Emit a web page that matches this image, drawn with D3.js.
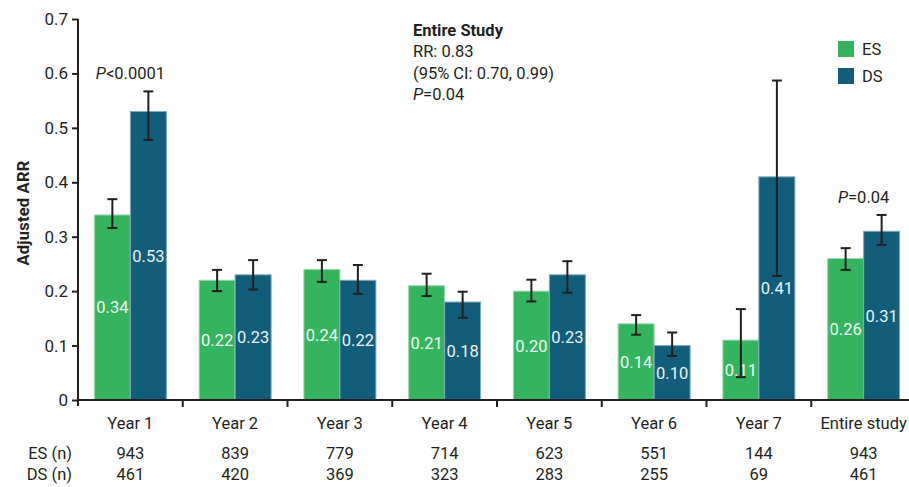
<!DOCTYPE html>
<html>
<head>
<meta charset="utf-8">
<script src="https://cdn.jsdelivr.net/npm/d3@7"></script>
<style>
  html, body { margin: 0; padding: 0; background: #fff; }
  svg { display: block; }
  text { font-family: "Roboto", "Open Sans", sans-serif; fill: #231f20; }
</style>
</head>
<body>
<svg id="chart" width="909" height="487"></svg>
<script>
// Adjusted annualised relapse rate by study year
const categories = ["Year 1", "Year 2", "Year 3", "Year 4", "Year 5", "Year 6", "Year 7", "Entire study"];
const seriesNames = ["ES", "DS"];
const esValues = [0.34, 0.22, 0.24, 0.21, 0.20, 0.14, 0.11, 0.26];
const dsValues = [0.53, 0.23, 0.22, 0.18, 0.23, 0.10, 0.41, 0.31];
const esLower = [0.316, 0.200, 0.217, 0.191, 0.181, 0.120, 0.042, 0.239];
const esUpper = [0.369, 0.239, 0.257, 0.232, 0.221, 0.156, 0.167, 0.279];
const dsLower = [0.478, 0.203, 0.195, 0.151, 0.197, 0.081, 0.228, 0.285];
const dsUpper = [0.567, 0.257, 0.248, 0.199, 0.255, 0.124, 0.587, 0.340];
const esCounts = [943, 839, 779, 714, 623, 551, 144, 943];
const dsCounts = [461, 420, 369, 323, 283, 255, 69, 461];
const yTicks = [0, 0.1, 0.2, 0.3, 0.4, 0.5, 0.6, 0.7];
const pAnnotations = [
  { category: "Year 1", series: "DS", op: "<", value: "0.0001" },
  { category: "Entire study", series: "DS", op: "=", value: "0.04" }
];
const summaryLines = ["RR: 0.83", "(95% CI: 0.70, 0.99)"];
const summaryP = "0.04";

const colors = { ES: "#35b45f", DS: "#125e7a" };
const strokes = { ES: "#9ed9b0", DS: "#7fa9bb" };
const fs = 16.5;

const svg = d3.select("#chart");
const x0 = 78, yBase = 400, yTop = 19;
const step = 104.75;

const x = d3.scaleBand().domain(categories).range([x0, x0 + step * categories.length]).padding(0);
const barW = 36;
const xs = d3.scaleBand().domain(seriesNames)
  .range([x.bandwidth() / 2 - barW, x.bandwidth() / 2 + barW]).padding(0);
const y = d3.scaleLinear().domain([0, 0.7]).range([yBase, yTop]);

const rows = categories.map((c, i) => ({
  category: c,
  bars: [
    { series: "ES", value: esValues[i], lo: esLower[i], hi: esUpper[i] },
    { series: "DS", value: dsValues[i], lo: dsLower[i], hi: dsUpper[i] }
  ]
}));

// Y axis
const yAxis = d3.axisLeft(y).tickValues(yTicks).tickSize(6).tickPadding(4)
  .tickFormat(d => d === 0 ? "0" : d3.format(".1f")(d));
const gy = svg.append("g").attr("transform", `translate(${x0},0)`).call(yAxis);
gy.select(".domain").attr("d", `M0,${yTop}V${yBase + 6}`).attr("stroke", "#231f20").attr("stroke-width", 2);
gy.selectAll(".tick line").attr("stroke", "#231f20").attr("stroke-width", 2);
gy.selectAll(".tick text").attr("font-size", 17).attr("fill", "#231f20")
  .style("font-family", '"Roboto", sans-serif');

svg.append("text")
  .attr("transform", `translate(29,213) rotate(-90)`)
  .attr("text-anchor", "middle").attr("font-size", 16.5).attr("font-weight", "bold")
  .attr("letter-spacing", 0.2)
  .text("Adjusted ARR");

// Bars
const groups = svg.append("g").selectAll("g.cat").data(rows).join("g")
  .attr("class", "cat").attr("transform", d => `translate(${x(d.category)},0)`);

groups.selectAll("rect").data(d => d.bars).join("rect")
  .attr("x", d => xs(d.series)).attr("width", xs.bandwidth())
  .attr("y", d => y(d.value)).attr("height", d => y(0) - y(d.value))
  .attr("fill", d => colors[d.series])
  .attr("stroke", d => strokes[d.series]).attr("stroke-width", 1);

// Value labels inside bars
groups.selectAll("text.val").data(d => d.bars).join("text")
  .attr("class", "val")
  .attr("x", d => xs(d.series) + xs.bandwidth() / 2)
  .attr("y", d => (y(d.value) + y(0)) / 2 + 6)
  .attr("text-anchor", "middle").attr("font-size", fs)
  .style("fill", "#ffffff").style("opacity", 0.92)
  .text(d => d3.format(".2f")(d.value));

// Error bars
const cap = 5;
const eb = groups.selectAll("g.err").data(d => d.bars).join("g").attr("class", "err")
  .attr("stroke", "#231f20").attr("stroke-width", 2);
eb.append("line")
  .attr("x1", d => xs(d.series) + xs.bandwidth() / 2).attr("x2", d => xs(d.series) + xs.bandwidth() / 2)
  .attr("y1", d => y(d.hi)).attr("y2", d => y(d.lo));
eb.append("line")
  .attr("x1", d => xs(d.series) + xs.bandwidth() / 2 - cap).attr("x2", d => xs(d.series) + xs.bandwidth() / 2 + cap)
  .attr("y1", d => y(d.hi)).attr("y2", d => y(d.hi));
eb.append("line")
  .attr("x1", d => xs(d.series) + xs.bandwidth() / 2 - cap).attr("x2", d => xs(d.series) + xs.bandwidth() / 2 + cap)
  .attr("y1", d => y(d.lo)).attr("y2", d => y(d.lo));

// X axis: baseline, boundary ticks and category labels
svg.append("line").attr("x1", x0).attr("x2", 909).attr("y1", yBase).attr("y2", yBase)
  .attr("stroke", "#231f20").attr("stroke-width", 2);
svg.append("g").selectAll("line").data(categories.slice(1)).join("line")
  .attr("x1", d => x(d)).attr("x2", d => x(d)).attr("y1", yBase).attr("y2", yBase + 7)
  .attr("stroke", "#231f20").attr("stroke-width", 2);
svg.append("g").selectAll("text").data(categories).join("text")
  .attr("x", d => x(d) + x.bandwidth() / 2).attr("y", 429)
  .attr("text-anchor", "middle").attr("font-size", fs).text(d => d);

// Sample size table
const tableRows = [
  { label: "ES (n)", counts: esCounts, yPos: 459 },
  { label: "DS (n)", counts: dsCounts, yPos: 480 }
];
tableRows.forEach(r => {
  svg.append("text").attr("x", 72).attr("y", r.yPos).attr("text-anchor", "end")
    .attr("font-size", fs).text(r.label);
  svg.append("g").selectAll("text").data(categories).join("text")
    .attr("x", d => x(d) + x.bandwidth() / 2).attr("y", r.yPos)
    .attr("text-anchor", "middle").attr("font-size", fs)
    .text((d, i) => r.counts[i]);
});

// P-value annotations above bar pairs
pAnnotations.forEach(a => {
  const i = categories.indexOf(a.category);
  const top = Math.max(esUpper[i], dsUpper[i]);
  const t = svg.append("text")
    .attr("x", x(a.category) + x.bandwidth() / 2).attr("y", y(top) - 12)
    .attr("text-anchor", "middle").attr("font-size", fs);
  t.append("tspan").attr("font-style", "italic").text("P");
  t.append("tspan").text(a.op + a.value);
});

// Entire study summary box
const sx = 413;
svg.append("text").attr("x", sx).attr("y", 36).attr("font-size", fs).attr("font-weight", "bold")
  .text("Entire Study");
summaryLines.forEach((s, i) => {
  svg.append("text").attr("x", sx).attr("y", 57 + i * 21.5).attr("font-size", fs).text(s);
});
const sp = svg.append("text").attr("x", sx).attr("y", 100).attr("font-size", fs);
sp.append("tspan").attr("font-style", "italic").text("P");
sp.append("tspan").text("=" + summaryP);

// Legend
const legend = svg.append("g").selectAll("g").data(seriesNames).join("g")
  .attr("transform", (d, i) => `translate(838,${41 + i * 27})`);
legend.append("rect").attr("width", 16).attr("height", 16).attr("fill", d => colors[d]);
legend.append("text").attr("x", 24).attr("y", 14).attr("font-size", fs).text(d => d);
</script>
</body>
</html>
